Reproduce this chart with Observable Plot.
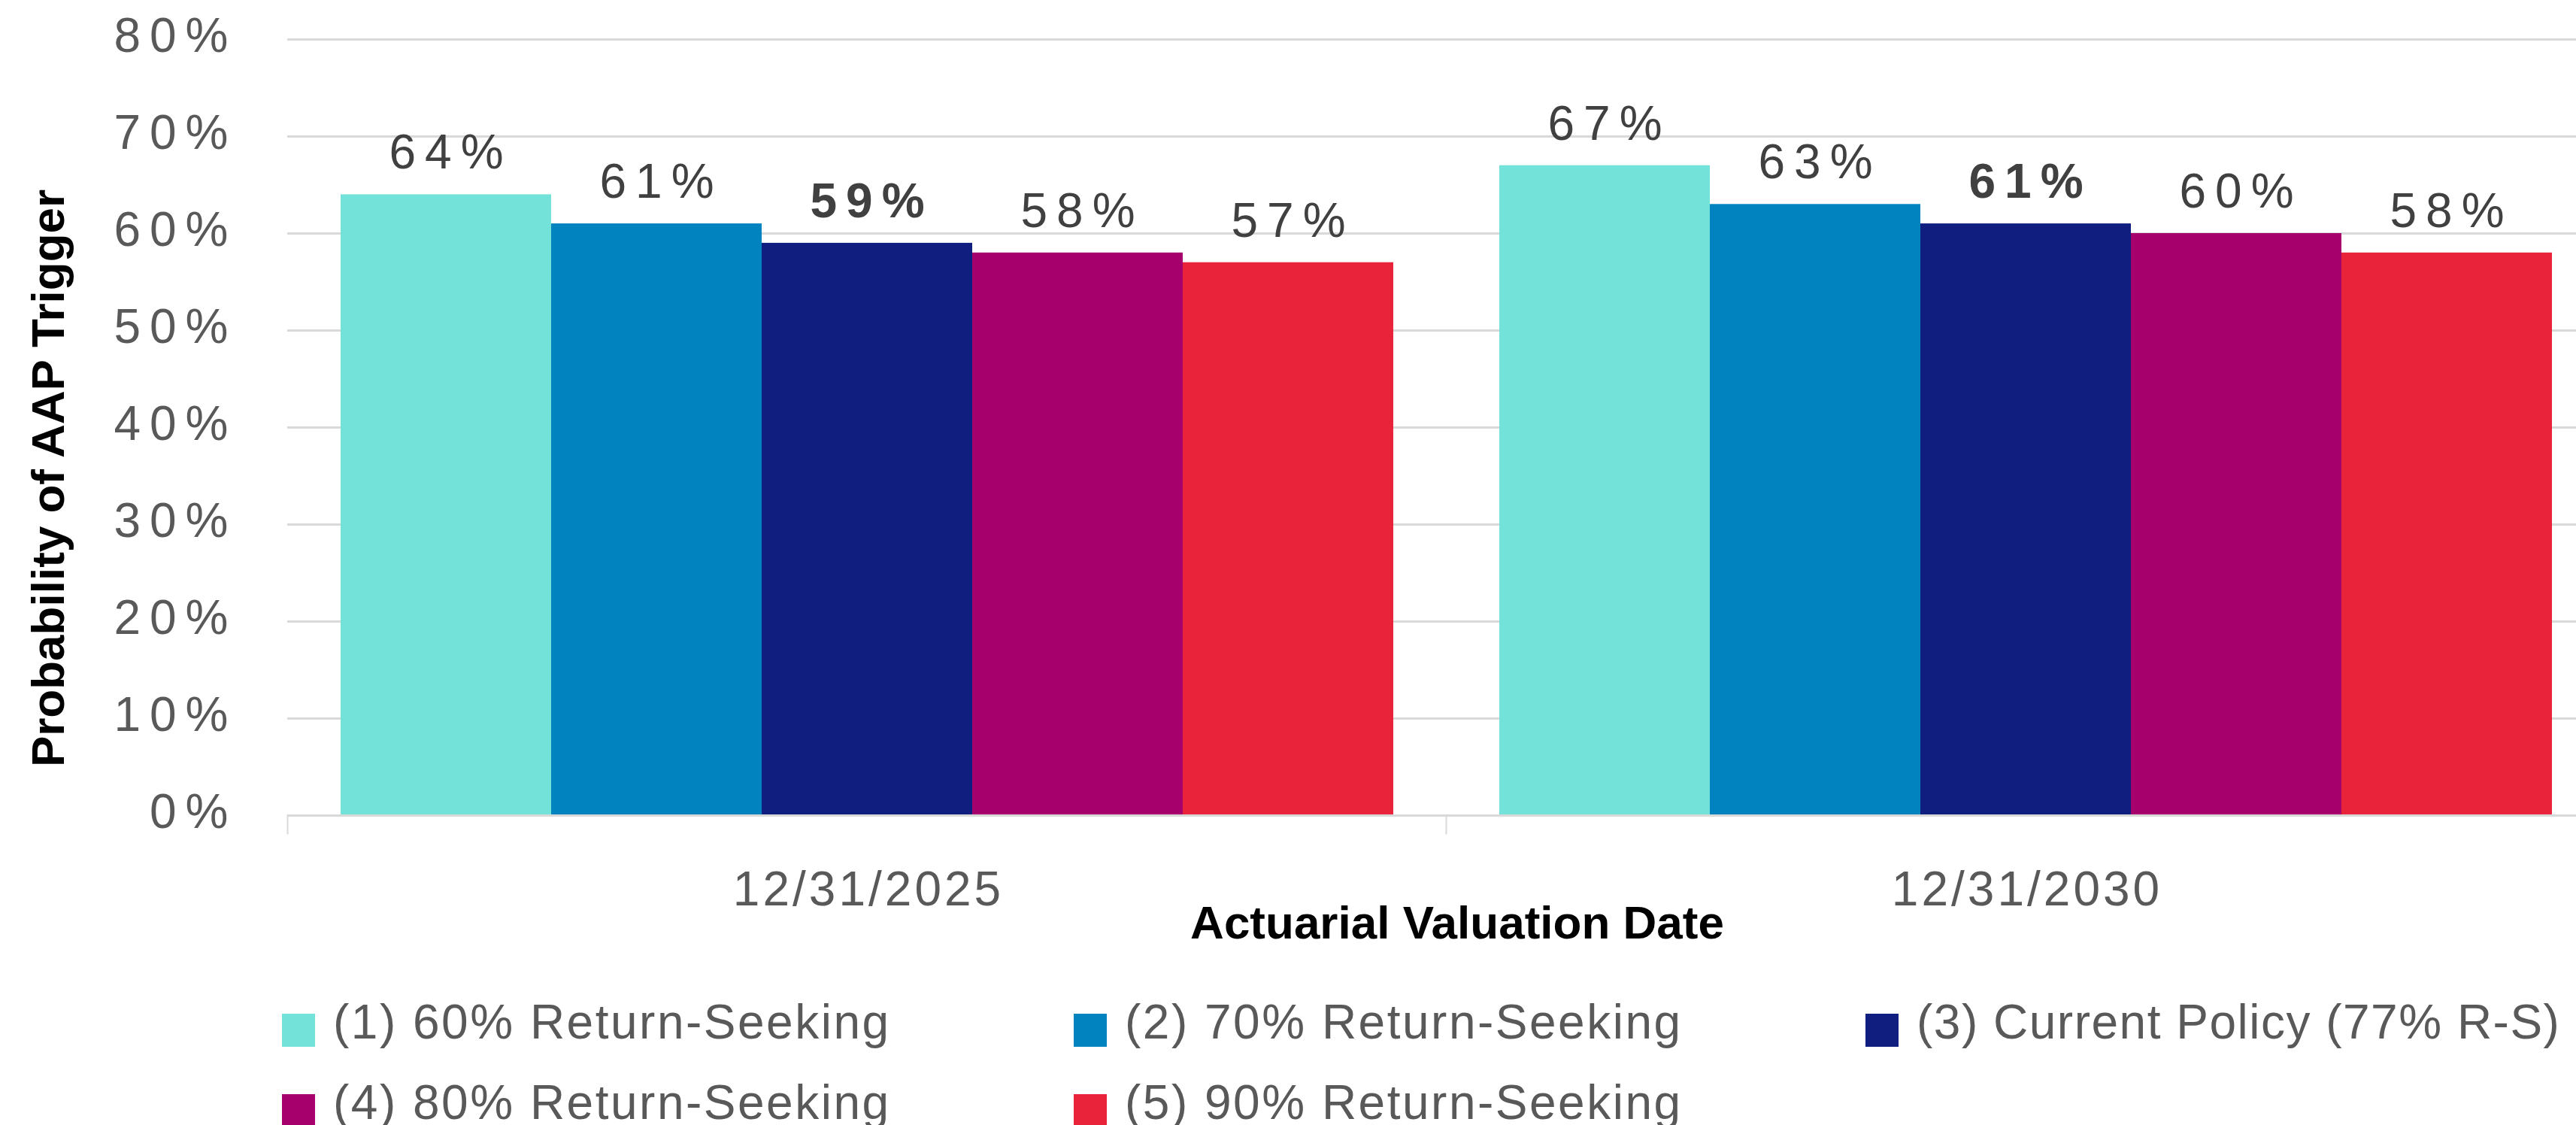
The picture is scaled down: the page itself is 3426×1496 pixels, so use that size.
<!DOCTYPE html>
<html>
<head>
<meta charset="utf-8">
<script src="https://cdn.jsdelivr.net/npm/d3@7"></script>
<script src="https://cdn.jsdelivr.net/npm/@observablehq/plot@0.6"></script>
<style>
  html, body { margin: 0; padding: 0; background: #fff; overflow: hidden; }
  #wrap { position: relative; width: 3464px; }
  .t { position: absolute; font-family: "Liberation Sans", Arial, sans-serif; font-weight: bold;
       font-size: 62px; line-height: 62px; color: #000; white-space: nowrap; }
  #ytitle { left: 64px; top: 636px; transform: translate(-50%, -50%) rotate(-90deg); }
  #xtitle { left: 1938px; top: 1196px; transform: translateX(-50%); }
  #legend { display: grid; grid-template-columns: 1053px 1053px auto; padding-left: 375px; padding-top: 20px;
            font-family: "Liberation Sans", Arial, sans-serif; font-size: 64px; color: #595959; letter-spacing: 2.5px; }
  .item { display: flex; align-items: center; height: 107px; white-space: nowrap; }
  .item:nth-child(3) { letter-spacing: 1.5px; }
  .sw { width: 44px; height: 44px; margin-right: 24px; margin-top: 12px; flex: none; }
  .lab { position: relative; top: -5px; line-height: 64px; }
  svg g[aria-label="fx-axis tick label"] { letter-spacing: 4px; }
</style>
</head>
<body>
<div id="wrap">
  <div id="chart"></div>
  <div class="t" id="ytitle">Probability of AAP Trigger</div>
  <div class="t" id="xtitle">Actuarial Valuation Date</div>
  <div id="legend"></div>
</div>
<script>
const dates = ["12/31/2025", "12/31/2030"];
const series = [
  "(1) 60% Return-Seeking",
  "(2) 70% Return-Seeking",
  "(3) Current Policy (77% R-S)",
  "(4) 80% Return-Seeking",
  "(5) 90% Return-Seeking"
];
const colors = ["#73E2D8", "#0083BF", "#101F7F", "#A6006D", "#E8233A"];
const values2025 = [64, 61, 59, 58, 57];
const values2030 = [67, 63, 61, 60, 58];
const yTicks = [0, 10, 20, 30, 40, 50, 60, 70, 80];
const highlight = series[2];

const data = [];
[values2025, values2030].forEach((vals, i) =>
  vals.forEach((v, j) => data.push({date: dates[i], series: series[j], value: v})));

const W = 3464, H = 1290, mL = 382, mT = 52, mB = 206;
const plotH = H - mT - mB;

const chart = Plot.plot({
  width: W, height: H,
  marginLeft: mL, marginRight: 0, marginTop: mT, marginBottom: mB,
  style: {fontFamily: "'Liberation Sans', Arial, sans-serif", fontSize: "64px", color: "#595959",
          background: "#fff", letterSpacing: "12px", overflow: "visible"},
  fx: {domain: dates, padding: 0, label: null},
  x: {domain: series, axis: null, paddingInner: 0, paddingOuter: 0.246},
  y: {domain: [0, 80], label: null},
  color: {domain: series, range: colors},
  marks: [
    Plot.gridY(yTicks, {stroke: "#d9d9d9", strokeOpacity: 1, strokeWidth: 3}),
    Plot.axisY(yTicks, {tickSize: 0, tickPadding: 67, tickFormat: d => d + "%", fill: "#595959", dy: -4, label: null}),
    Plot.axisFx({anchor: "bottom", tickSize: 0, tickPadding: 74, fill: "#595959", dx: 2, label: null}),
    Plot.barY(data, {fx: "date", x: "series", y: "value", fill: "series", inset: 0}),
    Plot.ruleY([0], {stroke: "#d9d9d9", strokeWidth: 3}),
    Plot.frame({anchor: "left", stroke: "#d9d9d9", strokeWidth: 2, insetTop: plotH, insetBottom: -24}),
    Plot.text(data, {filter: d => d.series !== highlight, fx: "date", x: "series", y: "value",
      text: d => d.value + "%", fill: "#404040", dx: 6, dy: -55}),
    Plot.text(data, {filter: d => d.series === highlight, fx: "date", x: "series", y: "value",
      text: d => d.value + "%", fill: "#404040", fontWeight: "bold", dx: 6, dy: -55})
  ]
});
document.getElementById("chart").appendChild(chart);

const legend = d3.select("#legend");
const items = legend.selectAll(".item").data(series).join("div").attr("class", "item");
items.append("div").attr("class", "sw").style("background", (d, i) => colors[i]);
items.append("span").attr("class", "lab").text(d => d);
</script>
</body>
</html>
